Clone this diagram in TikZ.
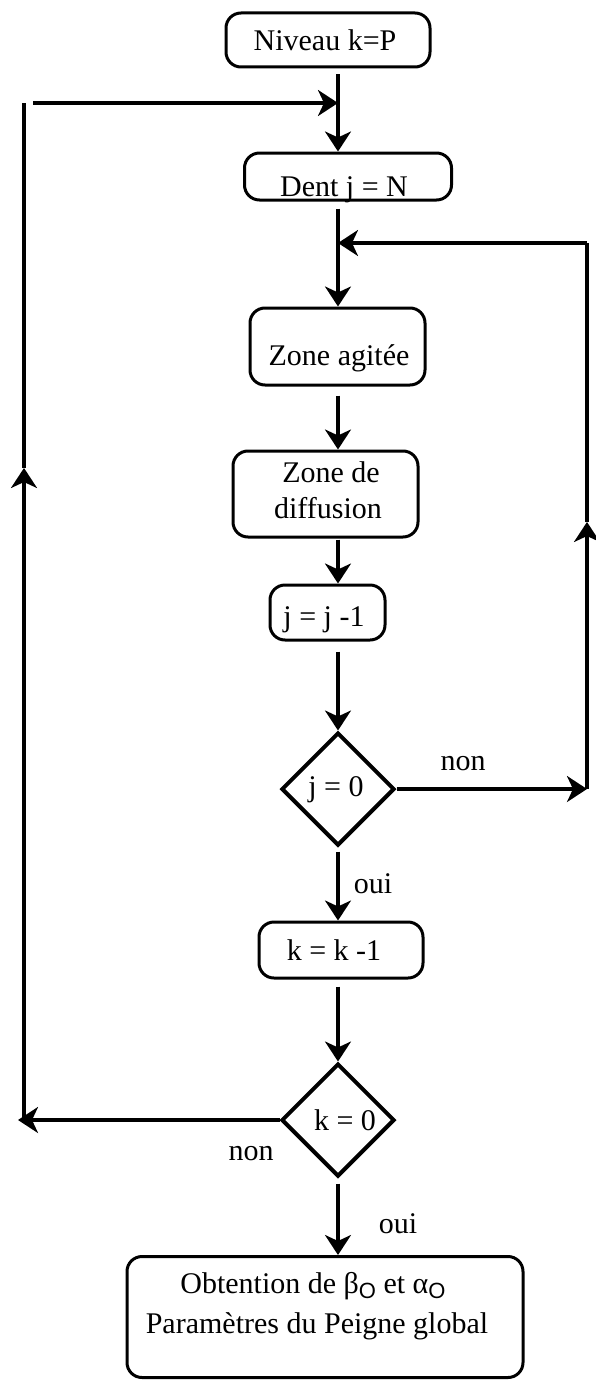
\documentclass[tikz,border=0pt]{standalone}
\usepackage{fontspec}
\setmainfont{Liberation Serif}
\newfontfamily\subfont{Liberation Sans}
\usetikzlibrary{arrows.meta,shapes.geometric}
\newcommand{\subO}{\raisebox{-5pt}{\subfont\fontsize{22}{22}\selectfont O}}
\begin{document}
\begin{tikzpicture}[x=1pt,y=-1pt,
  box/.style={draw,line width=3pt,rounded corners=15pt,inner sep=0pt},
  dia/.style={draw,line width=4pt,diamond,inner sep=0pt,minimum width=113pt,minimum height=113pt},
  txt/.style={anchor=base,inner sep=0pt,font=\fontsize{30}{36}\selectfont},
  conn/.style={line width=3.2pt},
  arr/.style={conn,-{Stealth[length=20pt,width=26pt,inset=6pt]}}]
\useasboundingbox (0,0) rectangle (595,1381);

% boxes
\node[box,minimum width=204pt,minimum height=54pt] (niv) at (328,40) {};
\node[txt] (nivt) at (325,51) {Niveau k=P};
\node[box,minimum width=207pt,minimum height=47pt] (dent) at (348,176.5) {};
\node[txt] (dentt) at (344,196) {Dent j = N};
\node[box,minimum width=175pt,minimum height=77pt] (zag) at (337.5,346.5) {};
\node[txt] (zagt) at (339,365) {Zone agitée};
\node[box,minimum width=185pt,minimum height=86pt] (zdf) at (325.5,494) {};
\node[txt] (zdft1) at (331,482) {Zone de};
\node[txt] (zdft2) at (328,518) {diffusion};
\node[box,minimum width=115pt,minimum height=55pt] (jm) at (327.5,612.5) {};
\node[txt] (jmt) at (324,626) {j = j -1};
\node[dia] (dj) at (338,789) {};
\node[txt] (djt) at (336,796) {j = 0};
\node[box,minimum width=164pt,minimum height=56pt] (km) at (341,950) {};
\node[txt] (kmt) at (334,960) {k = k -1};
\node[dia] (dk) at (338,1120) {};
\node[txt] (dkt) at (345,1130) {k = 0};
\node[box,minimum width=396pt,minimum height=121pt] (fin) at (325,1317) {};
\node[txt] (fint1) at (313,1293) {Obtention de β\subO{} et α\subO};
\node[txt] (fint2) at (317,1333) {Paramètres du Peigne global};

% labels
\node[txt] (non1) at (463,770) {non};
\node[txt] (oui1) at (373,893) {oui};
\node[txt] (non2) at (251,1160) {non};
\node[txt] (oui2) at (398,1233) {oui};

% junction coordinates
\coordinate (j1) at (338,103);
\coordinate (j2) at (338,243);
\coordinate (lt) at (24,103);
\coordinate (lm) at (24,468);
\coordinate (lb) at (24,1120);
\coordinate (rt) at (587,243);
\coordinate (rm) at (587,522);
\coordinate (rb) at (587,789);

% main flow
\draw[arr,shorten <=6pt] (niv.south -| j1) -- (dent.north -| j1);
\draw[arr,shorten <=7pt] (dent.south -| j2) -- (zag.north -| j2);
\draw[arr,shorten <=9pt] (zag.south -| j2) -- (zdf.north -| j2);
\draw[arr,shorten <=1pt] (zdf.south -| j2) -- (jm.north -| j2);
\draw[arr,shorten <=10pt] (jm.south -| j2) -- (dj.north);
\draw[arr,shorten <=4pt] (dj.south) -- (km.north -| dj.south);
\draw[arr,shorten <=7pt] (km.south -| dk.north) -- (dk.north);
\draw[arr,shorten <=5pt] (dk.south) -- (dk.south |- fin.north);

% inner loop (j)
\draw[arr] (dj.east) -- (rb);
\draw[arr] (rb) -- (rm);
\draw[conn] (rm) -- (rt);
\draw[arr] (rt) -- (j2);

% outer loop (k)
\draw[arr] (dk.west) -- ([xshift=-6pt]lb);
\draw[arr] (lb) -- (lm);
\draw[conn] (lm) -- (lt);
\draw[arr,shorten <=9pt] (lt) -- (j1);
\end{tikzpicture}
\end{document}
